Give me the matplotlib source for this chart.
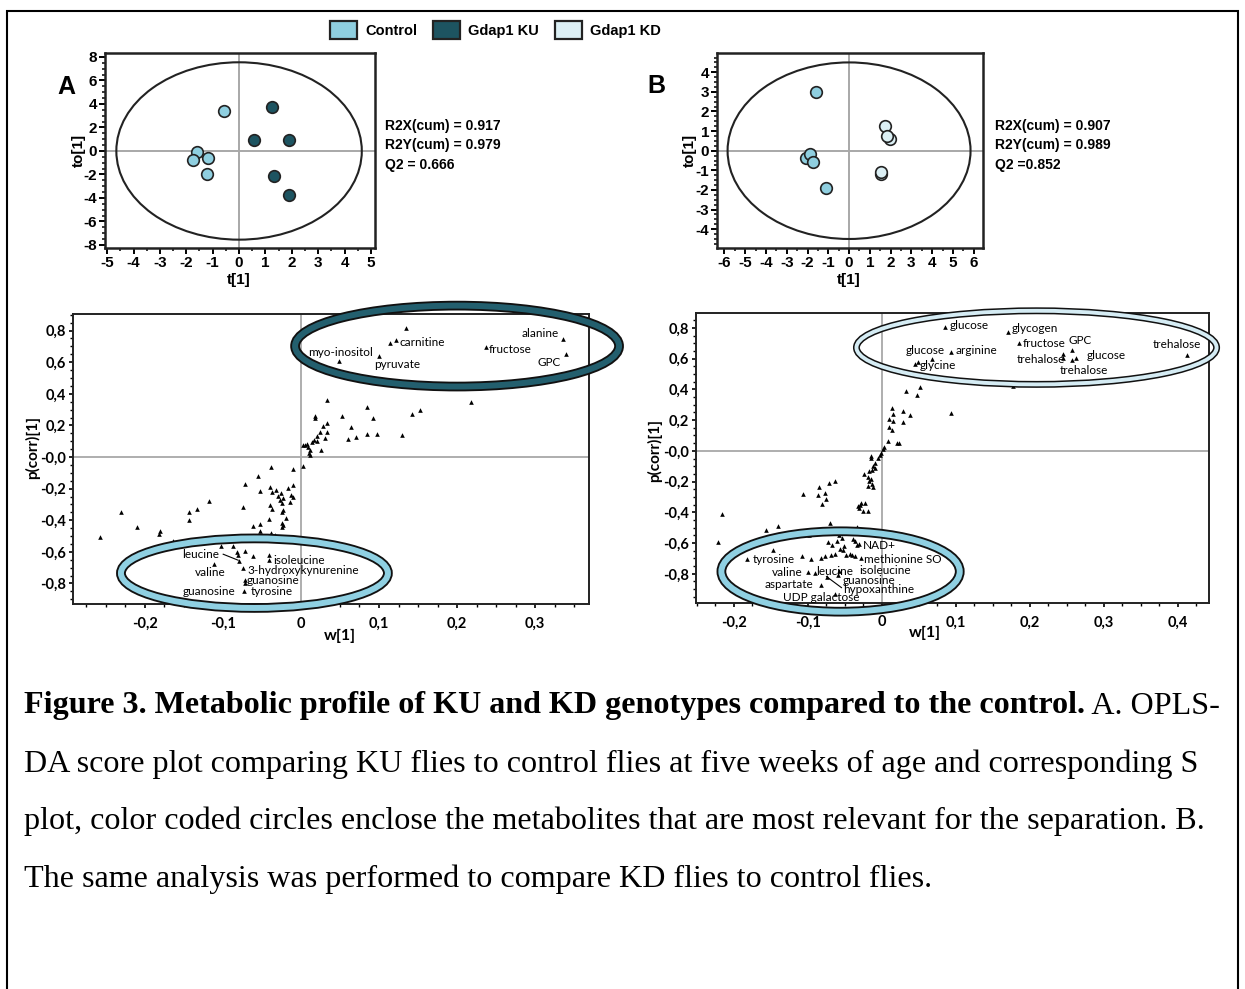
import matplotlib
matplotlib.use("Agg")
import matplotlib.pyplot as plt
from matplotlib.patches import Ellipse, Patch, Rectangle
from matplotlib.ticker import MultipleLocator, FuncFormatter

plt.rcParams["axes.unicode_minus"] = False

# ---- score plot data (t[1], to[1]) ----
score_a_ctrl_t = [-0.59, -1.60, -1.73, -1.19, -1.22]
score_a_ctrl_to = [3.43, -0.09, -0.74, -0.63, -2.00]
score_a_ku_t = [1.25, 0.58, 1.91, 1.33, 1.89]
score_a_ku_to = [3.77, 0.91, 0.91, -2.14, -3.77]
stats_a = ["R2X(cum) = 0.917", "R2Y(cum) = 0.979", "Q2 = 0.666"]

score_b_ctrl_t = [-1.60, -2.07, -1.86, -1.73, -1.12]
score_b_ctrl_to = [3.01, -0.39, -0.19, -0.58, -1.89]
score_b_kd_t = [1.71, 1.96, 1.83, 1.55, 1.55]
score_b_kd_to = [1.26, 0.61, 0.75, -1.20, -1.07]
stats_b = ["R2X(cum) = 0.907", "R2Y(cum) = 0.989", "Q2 =0.852"]

# ---- S-plot A (w[1], p(corr)[1]) ----
splot_a_w = [0.135, 0.122, 0.114, 0.100, 0.049, 0.237, 0.336, 0.340,
             0.2175, 0.0338, 0.085, 0.0175, 0.0185, 0.052, 0.092, 0.142, 0.152, 0.033,
             0.0286, 0.064, 0.024, 0.033, 0.020, 0.0167, 0.0137, 0.020, 0.031, 0.060,
             0.071, 0.085, 0.097, 0.130, 0.002, 0.005, 0.008, 0.0094, 0.0115, 0.0107,
             0.0115, 0.0256,
             0.002, -0.0098, -0.038, -0.0547, -0.0713, -0.0098, -0.0167, -0.040, -0.032,
             -0.025, -0.0526, -0.0376, -0.029, -0.0227, -0.0128, -0.0107, -0.0141, -0.0248,
             -0.027, -0.0748, -0.040, -0.0376, -0.0227, -0.0248, -0.0406, -0.0192, -0.061,
             -0.0526, -0.0248, -0.0248, -0.0227,
             -0.118, -0.133, -0.144, -0.144, -0.231, -0.210, -0.181, -0.182, -0.257, -0.164,
             -0.052, -0.039, -0.073, -0.061, -0.045, -0.033, -0.102, -0.087,
             -0.0812, -0.0825, -0.0714, -0.061, -0.041, -0.041, -0.111, -0.0748, -0.072,
             -0.0714, -0.073, -0.0795]
splot_a_p = [0.815, 0.740, 0.720, 0.640, 0.610, 0.696, 0.747, 0.654,
             0.350, 0.363, 0.317, 0.257, 0.250, 0.257, 0.250, 0.270, 0.300, 0.215,
             0.194, 0.193, 0.158, 0.156, 0.131, 0.105, 0.095, 0.100, 0.120, 0.116,
             0.127, 0.144, 0.144, 0.142, 0.074, 0.074, 0.085, 0.063, 0.042, 0.025,
             0.011, 0.042,
             -0.059, -0.078, -0.063, -0.122, -0.172, -0.177, -0.193, -0.189, -0.210,
             -0.225, -0.217, -0.221, -0.248, -0.259, -0.242, -0.256, -0.284, -0.290,
             -0.274, -0.316, -0.305, -0.326, -0.337, -0.347, -0.389, -0.383, -0.436,
             -0.425, -0.417, -0.442, -0.431,
             -0.280, -0.330, -0.350, -0.400, -0.350, -0.440, -0.470, -0.490, -0.506, -0.530,
             -0.466, -0.478, -0.505, -0.500, -0.498, -0.496, -0.560, -0.560,
             -0.617, -0.604, -0.596, -0.627, -0.621, -0.653, -0.676, -0.705, -0.775,
             -0.800, -0.846, -0.655]
labels_a = ["alanine", "carnitine", "myo-inositol", "pyruvate", "fructose", "GPC",
            "leucine", "isoleucine", "valine", "3-hydroxykynurenine", "guanosine",
            "guanosine", "tyrosine"]
labels_a_w = [0.330, 0.126, 0.009, 0.094, 0.241, 0.333,
              -0.152, -0.036, -0.136, -0.069, -0.069, -0.151, -0.0645]
labels_a_p = [0.783, 0.724, 0.660, 0.586, 0.681, 0.599,
              -0.617, -0.653, -0.733, -0.716, -0.783, -0.848, -0.848]
labels_a_right = ["alanine", "GPC"]

# ---- S-plot B ----
splot_b_w = [0.086, 0.170, 0.186, 0.257, 0.245, 0.245, 0.257, 0.262, 0.412, 0.094,
             0.0446, 0.049, 0.068, 0.1775, 0.033, 0.048, 0.051, 0.093, 0.0144, 0.0153,
             0.0099, 0.0153, 0.0288, 0.0378, 0.0288, 0.0099, 0.0131, 0.0077, 0.0207,
             0.0234, 0.0027, 0.001,
             -0.001, -0.0027, -0.0045, -0.0149, -0.0149, -0.009, -0.0117, -0.0135, -0.0172,
             -0.0095, -0.0243, -0.0185, -0.0149, -0.0172, -0.0135, -0.0117, -0.0185,
             -0.0851, -0.0716, -0.0626, -0.0861, -0.077, -0.0757, -0.0802, -0.0275, -0.023,
             -0.0306, -0.0288, -0.0252, -0.0185, -0.032,
             -0.216, -0.221, -0.157, -0.140, -0.107, -0.0986, -0.070, -0.034, -0.058,
             -0.0536, -0.0387, -0.0365, -0.031, -0.033, -0.0725, -0.067, -0.061, -0.0514,
             -0.0523, -0.0568, -0.069, -0.077, -0.0824, -0.0626, -0.0477, -0.0432, -0.0401,
             -0.0365, -0.0275, -0.1077, -0.095, -0.147, -0.182, -0.100, -0.090, -0.058,
             -0.059, -0.082, -0.0747, -0.0635]
splot_b_p = [0.809, 0.772, 0.700, 0.654, 0.630, 0.602, 0.590, 0.606, 0.623, 0.645,
             0.562, 0.580, 0.597, 0.423, 0.390, 0.366, 0.417, 0.246, 0.279, 0.240,
             0.207, 0.192, 0.257, 0.233, 0.185, 0.152, 0.135, 0.061, 0.048,
             0.048, 0.026, 0.009,
             -0.011, -0.026, -0.044, -0.033, -0.048, -0.076, -0.098, -0.122, -0.131,
             -0.113, -0.148, -0.170, -0.185, -0.196, -0.214, -0.235, -0.229,
             -0.235, -0.209, -0.196, -0.288, -0.273, -0.316, -0.345, -0.338, -0.338,
             -0.371, -0.353, -0.392, -0.392, -0.360,
             -0.410, -0.590, -0.517, -0.486, -0.283, -0.550, -0.468, -0.495, -0.549,
             -0.567, -0.571, -0.584, -0.604, -0.610, -0.593, -0.615, -0.584, -0.617,
             -0.643, -0.636, -0.676, -0.687, -0.698, -0.672, -0.676, -0.672, -0.680,
             -0.687, -0.698, -0.682, -0.702, -0.643, -0.704, -0.787, -0.793, -0.785,
             -0.806, -0.872, -0.818, -0.933]
labels_b = ["glucose", "glycogen", "fructose", "GPC", "glucose", "trehalose",
            "trehalose", "trehalose", "glucose", "arginine", "glycine",
            "NAD+", "methionine SO", "tyrosine", "valine", "leucine", "isoleucine",
            "guanosine", "hypoxanthine", "aspartate", "UDP galactose"]
labels_b_w = [0.092, 0.175, 0.190, 0.252, 0.277, 0.182, 0.240, 0.366, 0.032, 0.099,
              0.051, -0.025, -0.024, -0.175, -0.148, -0.089, -0.031, -0.053, -0.052,
              -0.159, -0.133]
labels_b_p = [0.815, 0.798, 0.698, 0.721, 0.623, 0.595, 0.525, 0.693, 0.652, 0.652,
              0.558, -0.617, -0.704, -0.704, -0.790, -0.785, -0.780, -0.844, -0.900,
              -0.868, -0.955]

caption_bold = "Figure 3. Metabolic profile of KU and KD genotypes compared to the control."
caption_lines = [" A. OPLS-",
                 "DA score plot comparing KU flies to control flies at five weeks of age and corresponding S",
                 "plot, color coded circles enclose the metabolites that are most relevant for the separation. B.",
                 "The same analysis was performed to compare KD flies to control flies."]

C_CTRL = "#8fcfe0"
C_KU = "#1d5461"
C_KD = "#dcf0f5"
GRID = "#a8a8a8"

W, H = 1245, 989
fig = plt.figure(figsize=(W / 100, H / 100), dpi=100)
fig.patch.set_facecolor("white")


def px_axes(x0, y0, x1, y1):
    return fig.add_axes([x0 / W, 1 - y1 / H, (x1 - x0) / W, (y1 - y0) / H])


def ftext(x, y, s, **kw):
    return fig.text(x / W, 1 - y / H, s, **kw)


SANS = "Liberation Sans"
CAL = "Lato"


def score_plot(ax, xs1, ys1, c1, xs2, ys2, c2, xlim, ylim, ell, xmin, ymaj, ymin):
    ax.set_xlim(*xlim)
    ax.set_ylim(*ylim)
    ax.axhline(0, color=GRID, lw=1.4, zorder=1)
    ax.axvline(0, color=GRID, lw=1.4, zorder=1)
    ax.add_patch(Ellipse((0, 0), 2 * ell[0], 2 * ell[1], fill=False, ec="#222222", lw=1.5, zorder=2))
    ax.scatter(xs1, ys1, s=70, c=c1, edgecolors="#222222", linewidths=1.2, zorder=3)
    ax.scatter(xs2, ys2, s=70, c=c2, edgecolors="#222222", linewidths=1.2, zorder=3)
    ax.xaxis.set_major_locator(MultipleLocator(1))
    ax.xaxis.set_minor_locator(MultipleLocator(xmin))
    ax.yaxis.set_major_locator(MultipleLocator(ymaj))
    ax.yaxis.set_minor_locator(MultipleLocator(ymin))
    ax.tick_params(which="major", length=4, width=1.4, pad=1.5, labelsize=11)
    ax.tick_params(which="minor", length=2.5, width=1.1)
    for lab in ax.get_xticklabels() + ax.get_yticklabels():
        lab.set_fontfamily(SANS)
        lab.set_fontweight("bold")
    for sp in ax.spines.values():
        sp.set_linewidth(1.8)
        sp.set_color("#222222")


ax_a = px_axes(105, 53, 375, 248)
score_plot(ax_a, score_a_ctrl_t, score_a_ctrl_to, C_CTRL, score_a_ku_t, score_a_ku_to, C_KU,
           (-5.08, 5.15), (-8.26, 8.34), (4.65, 7.55), 0.5, 2, 0.5)
ax_b = px_axes(717, 53, 983, 248)
score_plot(ax_b, score_b_ctrl_t, score_b_ctrl_to, C_CTRL, score_b_kd_t, score_b_kd_to, C_KD,
           (-6.36, 6.45), (-4.96, 4.98), (5.85, 4.5), 0.5, 1, 0.25)

for xc, xl in [(239, 79), (849, 690)]:
    ftext(xc, 280, "t[1]", ha="center", va="center", fontsize=11, fontweight="bold", family=SANS)
    ftext(xl, 150, "to[1]", ha="center", va="center", rotation=90, fontsize=11,
          fontweight="bold", family=SANS)
ftext(57, 87, "A", ha="left", va="center", fontsize=18, fontweight="bold", family=SANS)
ftext(647, 86, "B", ha="left", va="center", fontsize=18, fontweight="bold", family=SANS)
for i, (sa_, sb_) in enumerate(zip(stats_a, stats_b)):
    ftext(385, 126 + 19.5 * i, sa_, ha="left", va="center", fontsize=10, fontweight="bold", family=SANS)
    ftext(995, 126 + 19.5 * i, sb_, ha="left", va="center", fontsize=10, fontweight="bold", family=SANS)

# legend
handles = [Patch(facecolor=C_CTRL, edgecolor="#222222", lw=1.6, label="Control"),
           Patch(facecolor=C_KU, edgecolor="#222222", lw=1.6, label="Gdap1 KU"),
           Patch(facecolor=C_KD, edgecolor="#222222", lw=1.6, label="Gdap1 KD")]
leg = fig.legend(handles=handles, loc="center left", bbox_to_anchor=(323 / W, 1 - 30 / H), ncol=3,
                 frameon=False, borderpad=0, handlelength=1.85, handleheight=1.5,
                 handletextpad=0.55, columnspacing=1.1,
                 prop={"family": SANS, "weight": "bold", "size": 10.5})


def fmt_y(v, _):
    if abs(v) < 1e-9:
        return "-0,0"
    return f"{v:.1f}".replace(".", ",")


def fmt_x(v, _):
    if abs(v) < 1e-9:
        return "0"
    return f"{v:.1f}".replace(".", ",")


def ring(ax, cx, cy, w, h, color, outer, inner):
    ax.add_patch(Ellipse((cx, cy), w, h, fill=False, ec="#111111", lw=outer, zorder=4, clip_on=False))
    ax.add_patch(Ellipse((cx, cy), w, h, fill=False, ec=color, lw=inner, zorder=4, clip_on=False))


def s_plot(ax, w, p, xlim, ylim):
    ax.set_xlim(*xlim)
    ax.set_ylim(*ylim)
    ax.axhline(0, color=GRID, lw=1.3, zorder=1)
    ax.axvline(0, color=GRID, lw=1.3, zorder=1)
    ax.scatter(w, p, marker="^", s=11, c="black", linewidths=0, zorder=3)
    ax.xaxis.set_major_locator(MultipleLocator(0.1))
    ax.xaxis.set_minor_locator(MultipleLocator(0.025))
    ax.set_yticks([-0.8, -0.6, -0.4, -0.2, 0, 0.2, 0.4, 0.6, 0.8])
    ax.yaxis.set_minor_locator(MultipleLocator(0.05))
    ax.xaxis.set_major_formatter(FuncFormatter(fmt_x))
    ax.yaxis.set_major_formatter(FuncFormatter(fmt_y))
    ax.tick_params(which="major", length=3, width=1.2, pad=2, labelsize=10.5)
    ax.tick_params(which="minor", length=2, width=1.0)
    ax.tick_params(axis="x", pad=6)
    for lab in ax.get_xticklabels() + ax.get_yticklabels():
        lab.set_fontfamily(CAL)
        lab.set_fontweight("bold")
    for sp in ax.spines.values():
        sp.set_linewidth(1.4)
        sp.set_color("#222222")


sa = px_axes(73, 314, 589, 604)
s_plot(sa, splot_a_w, splot_a_p, (-0.292, 0.369), (-0.93, 0.905))
ring(sa, 0.2, 0.702, 0.415, 0.512, "#235f6e", 7.0, 4.3)
ring(sa, -0.0596, -0.735, 0.342, 0.44, "#8fd0e2", 7.0, 4.3)
for s, x, y in zip(labels_a, labels_a_w, labels_a_p):
    sa.text(x, y, s, ha="right" if s in labels_a_right else "left", va="center",
            fontsize=8.5, family=CAL, zorder=5, clip_on=False)
sa.plot([-0.0996, -0.0804], [-0.615, -0.653], color="black", lw=0.8, zorder=5)

sb = px_axes(696, 313, 1209, 603)
s_plot(sb, splot_b_w, splot_b_p, (-0.251, 0.442), (-0.99, 0.897))
ring(sb, 0.209, 0.672, 0.4865, 0.479, "#d5ecf4", 5.0, 2.8)
ring(sb, -0.0557, -0.785, 0.322, 0.523, "#8fd0e2", 7.0, 4.3)
for s, x, y in zip(labels_b, labels_b_w, labels_b_p):
    sb.text(x, y, s, ha="left", va="center", fontsize=8.5, family=CAL, zorder=5, clip_on=False)
sb.plot([-0.0747, -0.0545], [-0.818, -0.89], color="black", lw=0.8, zorder=5)

for lx, ly, px, py in [(340, 636, 33, 448), (925, 633, 655, 450)]:
    ftext(lx, ly, "w[1]", ha="center", va="center", fontsize=11.5, fontweight="bold", family=CAL)
    ftext(px, py, "p(corr)[1]", ha="center", va="center", rotation=90, fontsize=11,
          fontweight="bold", family=CAL)

# caption
renderer = fig.canvas.get_renderer()
probe = ftext(24, 764, caption_lines[1], fontsize=20, family="Liberation Serif", va="center")
cap_fs = 20 * 1173 / probe.get_window_extent(renderer).width
probe.remove()
t1 = ftext(24, 706, caption_bold, fontsize=cap_fs, fontweight="bold", family="Liberation Serif",
           va="center")
bb = t1.get_window_extent(renderer)
fig.text(bb.x1 / W, 1 - 706 / H, caption_lines[0], fontsize=cap_fs, family="Liberation Serif",
         va="center")
for i, line in enumerate(caption_lines[1:]):
    ftext(24, 764 + 57.5 * i, line, fontsize=cap_fs, family="Liberation Serif", va="center")

# outer frame
fig.patches.append(Rectangle((7 / W, -0.02), (1238 - 7) / W, 1.02 - 11 / H, fill=False,
                             ec="black", lw=1.5, transform=fig.transFigure, figure=fig))

fig.savefig("out.png", dpi=100)
